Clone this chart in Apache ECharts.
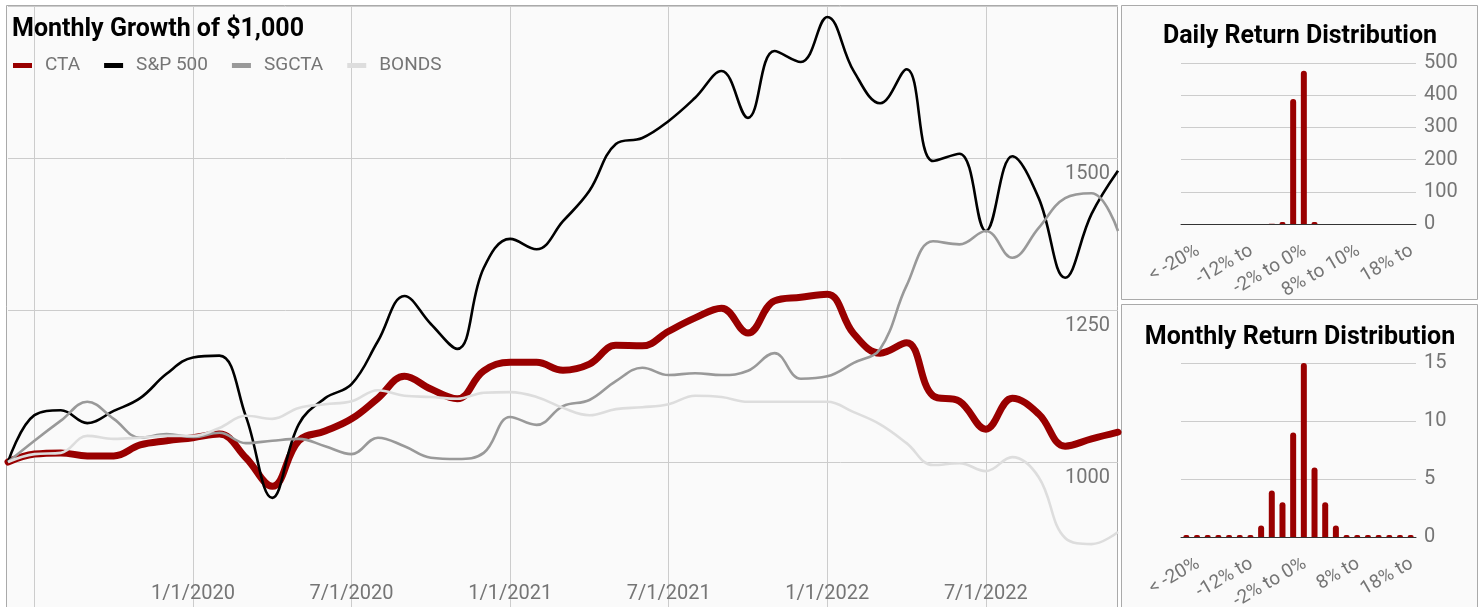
<!DOCTYPE html>
<html>
<head>
<meta charset="utf-8">
<script src="https://cdn.jsdelivr.net/npm/echarts@6/dist/echarts.min.js"></script>
<style>
  html, body { margin: 0; padding: 0; background: #ffffff; }
  #chart { width: 1483px; height: 607px; }
</style>
</head>
<body>
<div id="chart"></div>
<script>
// Month points of the growth chart
const months = [
  '6/1/2019', '7/1/2019', '8/1/2019', '9/1/2019', '10/1/2019', '11/1/2019', '12/1/2019',
  '1/1/2020', '2/1/2020', '3/1/2020', '4/1/2020', '5/1/2020', '6/1/2020', '7/1/2020',
  '8/1/2020', '9/1/2020', '10/1/2020', '11/1/2020', '12/1/2020', '1/1/2021', '2/1/2021',
  '3/1/2021', '4/1/2021', '5/1/2021', '6/1/2021', '7/1/2021', '8/1/2021', '9/1/2021',
  '10/1/2021', '11/1/2021', '12/1/2021', '1/1/2022', '2/1/2022', '3/1/2022', '4/1/2022',
  '5/1/2022', '6/1/2022', '7/1/2022', '8/1/2022', '9/1/2022', '10/1/2022', '11/1/2022',
  '12/1/2022'
];

// Growth of $1,000 per series
const cta = [1000, 1013, 1015, 1010, 1010, 1028, 1035, 1040, 1046, 1007, 960, 1035, 1051, 1071,
  1105, 1141, 1120, 1104, 1150, 1164, 1164, 1151, 1161, 1192, 1191, 1215, 1237, 1253,
  1212, 1265, 1271, 1276, 1211, 1179, 1196, 1109, 1100, 1054, 1105, 1079, 1026, 1038, 1049];
const sp500 = [1000, 1077, 1085, 1064, 1084, 1105, 1145, 1172, 1175, 1075, 941, 1062, 1105, 1128,
  1199, 1273, 1227, 1186, 1319, 1367, 1350, 1396, 1446, 1523, 1533, 1561, 1599, 1643,
  1566, 1676, 1658, 1732, 1643, 1590, 1646, 1495, 1507, 1380, 1503, 1434, 1303, 1408, 1479];
const sgcta = [1000, 1035, 1068, 1099, 1071, 1040, 1046, 1041, 1048, 1031, 1035, 1038, 1026, 1013,
  1040, 1026, 1007, 1005, 1015, 1074, 1061, 1092, 1102, 1133, 1155, 1143, 1146, 1143,
  1150, 1179, 1137, 1141, 1163, 1186, 1290, 1363, 1358, 1380, 1336, 1385, 1434, 1442, 1380];
const bonds = [1000, 1013, 1015, 1043, 1038, 1040, 1043, 1043, 1056, 1076, 1071, 1089, 1095, 1100,
  1118, 1109, 1107, 1104, 1114, 1115, 1107, 1089, 1077, 1087, 1090, 1095, 1109, 1107,
  1099, 1099, 1099, 1099, 1082, 1062, 1031, 995, 998, 985, 1008, 975, 875, 865, 885];

// Return buckets of the two histograms
const buckets = ['< -20%', '-20% to -18%', '-18% to -16%', '-16% to -14%', '-14% to -12%',
  '-12% to -10%', '-10% to -8%', '-8% to -6%', '-6% to -4%', '-4% to -2%', '-2% to 0%',
  '0% to 2%', '2% to 4%', '4% to 6%', '6% to 8%', '8% to 10%', '10% to 12%', '12% to 14%',
  '14% to 16%', '16% to 18%', '18% to 20%', '> 20%'];
const dailyCounts = [0, 0, 0, 0, 0, 0, 0, 0, 1, 6, 388, 476, 6, 0, 0, 0, 0, 0, 0, 0, 0, 0];
const monthlyCounts = [0, 0, 0, 0, 0, 0, 0, 1, 4, 3, 9, 15, 6, 3, 1, 0, 0, 0, 0, 0, 0, 0];

// Tick labels shown under every fifth bucket
const dailyTickLabels = ['< -20%', '-12% to', '-2% to 0%', '8% to 10%', '18% to'];
const monthlyTickLabels = ['< -20%', '-12% to', '-2% to 0%', '8% to', '18% to'];

const FONT = 'Roboto, sans-serif';
const GREY_TEXT = '#757575';
const GRID_LINE = '#cccccc';
const RED = '#990000';

const chart = echarts.init(document.getElementById('chart'), null, { renderer: 'canvas' });

function histX(gridIndex, ticks) {
  return {
    type: 'category', gridIndex: gridIndex, data: buckets,
    axisLine: { show: true, onZero: true, lineStyle: { color: '#333333', width: 1 } },
    axisTick: { show: false },
    splitLine: { show: false },
    axisLabel: {
      interval: function (i) { return i % 5 === 0; },
      formatter: function (v, i) { return ticks[i / 5] || ''; },
      rotate: 30, margin: 5, color: GREY_TEXT, fontFamily: FONT, fontSize: 19,
      verticalAlign: 'top', padding: [14, 0, 0, 0]
    }
  };
}
function histY(gridIndex, max, interval) {
  return {
    type: 'value', gridIndex: gridIndex, position: 'right', min: 0, max: max, interval: interval,
    axisLine: { show: false }, axisTick: { show: false },
    splitLine: { lineStyle: { color: GRID_LINE, width: 1 } },
    axisLabel: { margin: 8, color: GREY_TEXT, fontFamily: FONT, fontSize: 20,
      verticalAlign: 'middle', padding: [9, 0, 0, 0] }
  };
}

const option = {
  backgroundColor: '#ffffff',
  animation: false,
  textStyle: { fontFamily: FONT },
  graphic: [
    { type: 'rect', z: -10, shape: { x: 6.5, y: 5.5, width: 1111, height: 620 },
      style: { fill: '#fafafa', stroke: '#aaaaaa', lineWidth: 1 } },
    { type: 'rect', z: -10, shape: { x: 1121.5, y: 5.5, width: 356, height: 294 },
      style: { fill: '#fafafa', stroke: '#aaaaaa', lineWidth: 1 } },
    { type: 'rect', z: -10, shape: { x: 1121.5, y: 304.5, width: 356, height: 320 },
      style: { fill: '#fafafa', stroke: '#aaaaaa', lineWidth: 1 } },
    { type: 'text', z: 10, x: 12, y: 30,
      style: { text: 'Monthly Growth of $1,000', fill: '#000000', font: 'bold 25px ' + FONT,
        align: 'left', verticalAlign: 'middle' } },
    { type: 'text', z: 10, x: 1300, y: 37,
      style: { text: 'Daily Return Distribution', fill: '#000000', font: 'bold 25px ' + FONT,
        align: 'center', verticalAlign: 'middle' } },
    { type: 'text', z: 10, x: 1300, y: 338,
      style: { text: 'Monthly Return Distribution', fill: '#000000', font: 'bold 25px ' + FONT,
        align: 'center', verticalAlign: 'middle' } }
  ],
  legend: {
    left: 13, top: 56, padding: 0, itemGap: 24,
    itemWidth: 19, itemHeight: 5, icon: 'rect',
    itemStyle: { borderWidth: 0 },
    textStyle: { color: GREY_TEXT, fontFamily: FONT, fontSize: 19, padding: [0, 0, 0, 8] },
    data: ['CTA', 'S&P 500', 'SGCTA', 'BONDS']
  },
  grid: [
    { left: 8, top: 6, width: 1110, height: 608, outerBoundsMode: 'none', containLabel: false },
    { left: 1181, top: 63, width: 235, height: 161, outerBoundsMode: 'none', containLabel: false },
    { left: 1181, top: 363, width: 235, height: 174, outerBoundsMode: 'none', containLabel: false }
  ],
  xAxis: [
    {
      type: 'category', gridIndex: 0, data: months, boundaryGap: false,
      axisLine: { show: false }, axisTick: { show: false },
      splitLine: { show: true, interval: function (i) { return i % 6 === 1; },
        lineStyle: { color: GRID_LINE, width: 1 } },
      axisLabel: {
        inside: true, margin: 10, verticalAlign: 'bottom',
        interval: function (i) { return i % 6 === 1 && i > 1; },
        color: GREY_TEXT, fontFamily: FONT, fontSize: 20
      }
    },
    histX(1, dailyTickLabels),
    histX(2, monthlyTickLabels)
  ],
  yAxis: [
    {
      type: 'value', gridIndex: 0, position: 'right', min: 750, max: 1750, interval: 250,
      axisLine: { show: false }, axisTick: { show: false },
      splitLine: { lineStyle: { color: GRID_LINE, width: 1 } },
      axisLabel: {
        inside: true, margin: 8, verticalAlign: 'top', padding: [6, 0, 0, 0],
        color: GREY_TEXT, fontFamily: FONT, fontSize: 20,
        formatter: function (v) { return (v === 750 || v === 1750) ? '' : String(v); }
      }
    },
    histY(1, 500, 100),
    histY(2, 15, 5)
  ],
  series: [
    { name: 'CTA', type: 'line', xAxisIndex: 0, yAxisIndex: 0, data: cta,
      smooth: 0.4, symbol: 'none', itemStyle: { color: RED },
      lineStyle: { color: RED, width: 7, cap: 'round', join: 'round' } },
    { name: 'S&P 500', type: 'line', xAxisIndex: 0, yAxisIndex: 0, data: sp500,
      smooth: 0.4, symbol: 'none', itemStyle: { color: '#000000' },
      lineStyle: { color: '#000000', width: 2.6 } },
    { name: 'SGCTA', type: 'line', xAxisIndex: 0, yAxisIndex: 0, data: sgcta,
      smooth: 0.4, symbol: 'none', itemStyle: { color: '#999999' },
      lineStyle: { color: '#999999', width: 2.6 } },
    { name: 'BONDS', type: 'line', xAxisIndex: 0, yAxisIndex: 0, data: bonds,
      smooth: 0.4, symbol: 'none', itemStyle: { color: '#dddddd' },
      lineStyle: { color: '#dddddd', width: 2.6 } },
    { name: 'Daily', type: 'bar', xAxisIndex: 1, yAxisIndex: 1, data: dailyCounts,
      barWidth: 6, itemStyle: { color: RED, borderRadius: [3, 3, 0, 0] } },
    { name: 'Monthly', type: 'bar', xAxisIndex: 2, yAxisIndex: 2, data: monthlyCounts,
      barWidth: 6, barMinHeight: 2, itemStyle: { color: RED, borderRadius: [3, 3, 0, 0] } }
  ]
};

chart.setOption(option);
</script>
</body>
</html>
